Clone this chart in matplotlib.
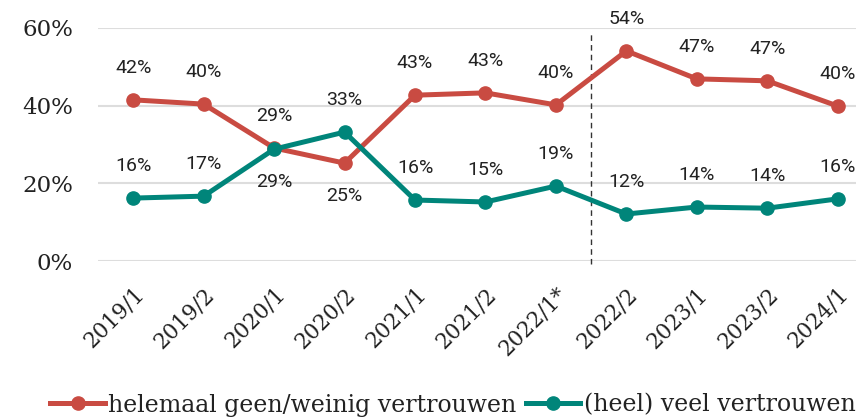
import matplotlib
matplotlib.use("Agg")
import matplotlib.pyplot as plt

categories = ["2019/1", "2019/2", "2020/1", "2020/2", "2021/1", "2021/2",
              "2022/1*", "2022/2", "2023/1", "2023/2", "2024/1"]
geen = [41.5, 40.4, 29.1, 25.2, 42.7, 43.3, 40.2, 54.1, 46.9, 46.4, 39.9]
veel = [16.2, 16.7, 28.8, 33.2, 15.7, 15.2, 19.3, 12.1, 13.9, 13.6, 16.0]
geen_labels = [42, 40, 29, 25, 43, 43, 40, 54, 47, 47, 40]
veel_labels = [16, 17, 29, 33, 16, 15, 19, 12, 14, 14, 16]
geen_below = [False, False, False, True, False, False, False, False, False, False, False]
veel_below = [False, False, True, False, False, False, False, False, False, False, False]
yticks = [0, 20, 40, 60]

RED = "#C94B42"
GREEN = "#00857A"
SERIF = "DejaVu Serif"

fig = plt.figure(figsize=(8.56, 4.19), dpi=100)
ax = fig.add_axes([98/856, 1-261/419, (856-98)/856, (261-28)/419])

x = list(range(len(categories)))
ax.plot(x, geen, color=RED, lw=3.6, marker="o", ms=9.5, zorder=3,
        label="helemaal geen/weinig vertrouwen")
ax.plot(x, veel, color=GREEN, lw=3.6, marker="o", ms=9.5, zorder=3,
        label="(heel) veel vertrouwen")

for vals, labs, below in ((geen, geen_labels, geen_below), (veel, veel_labels, veel_below)):
    for i in x:
        off = -24 if below[i] else 23
        ax.annotate(f"{labs[i]}%", (i, vals[i]), xytext=(0, off), textcoords="offset points",
                    ha="center", va="center", fontsize=14, family="Roboto",
                    color="#222222")

ax.axvline(6.5, ymin=-0.015, ymax=0.985, color="#333333", lw=1, ls=(0, (4, 3)),
           clip_on=False, zorder=2)
ax.set_ylim(0, 60)
ax.set_xlim(-0.5, 10.26)
ax.set_yticks(yticks)
ax.set_yticklabels([f"{t}%" for t in yticks], family=SERIF, fontsize=16.5, color="#222222")
ax.set_xticks(x)
ax.set_xticklabels(categories, rotation=45, ha="right", va="top",
                   rotation_mode="anchor", family=SERIF, fontsize=15.5, color="#222222")
ax.tick_params(axis="y", length=0, pad=18)
ax.tick_params(axis="x", length=0, pad=16)
ax.grid(axis="y", color="#dddddd", lw=1.5)
ax.set_axisbelow(True)
for s in ax.spines.values():
    s.set_visible(False)

leg = fig.legend(loc="center", bbox_to_anchor=(453/856, 1-405/419), ncol=2, frameon=False,
                 prop={"family": SERIF, "size": 17}, handlelength=2.3,
                 handletextpad=0.15, columnspacing=0.4)
for t in leg.get_texts():
    t.set_color("#222222")

fig.savefig("out.png", dpi=100)
